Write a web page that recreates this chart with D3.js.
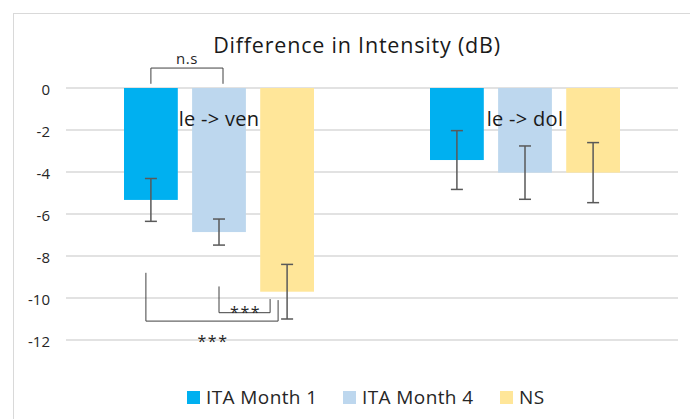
<!DOCTYPE html>
<html>
<head>
<meta charset="utf-8">
<script src="https://cdn.jsdelivr.net/npm/d3@7"></script>
<style>
  body { margin: 0; background: #fff; }
  svg { display: block; font-family: 'Open Sans', sans-serif; }
</style>
</head>
<body>
<svg id="chart" width="690" height="419"></svg>
<script>
const categories = ['le -> ven', 'le -> dol'];
const seriesNames = ['ITA Month 1', 'ITA Month 4', 'NS'];
const month1 = [-5.33, -3.43];
const month4 = [-6.86, -4.03];
const ns = [-9.7, -4.03];
const month1Err = [1.02, 1.4];
const month4Err = [0.62, 1.27];
const nsErr = [1.3, 1.43];
const yTicks = [0, -2, -4, -6, -8, -10, -12];
const colors = ['#00b0f0', '#bdd7ee', '#ffe699'];

// significance brackets: series index for each leg, y levels in data units
const brackets = [
  { a: 0, b: 1, cat: 0, ya: 0.2, yb: 0.2, yBar: 0.95, label: 'n.s', pos: 'above' },
  { a: 1, b: 2, cat: 0, ya: -9.45, yb: -10.05, yBar: -10.7, label: '***', pos: 'inside', dxb: -17 },
  { a: 0, b: 2, cat: 0, ya: -8.8, yb: -10.1, yBar: -11.1, label: '***', pos: 'below', dxa: -5, dxb: -9 }
];

function makeChart() {
  const svg = d3.select('#chart');

  // outer frame
  svg.append('rect')
    .attr('x', 13.5).attr('y', 13.5)
    .attr('width', 700).attr('height', 420)
    .attr('fill', 'none').attr('stroke', '#d9d9d9');

  const x0 = d3.scaleBand().domain(categories).range([66, 678]);
  const x1 = d3.scaleBand().domain(seriesNames)
    .range([58, 248]).paddingInner(0.21);
  const y = d3.scaleLinear().domain([-12, 0]).range([340, 88]);

  // gridlines
  svg.append('g')
    .selectAll('line')
    .data(yTicks)
    .join('line')
    .attr('x1', 66).attr('x2', 678)
    .attr('y1', d => y(d)).attr('y2', d => y(d))
    .attr('stroke', '#d9d9d9').attr('stroke-width', 1.3);

  // y axis labels
  const yAxis = svg.append('g')
    .attr('transform', 'translate(50,2)')
    .call(d3.axisLeft(y).tickValues(yTicks).tickFormat(d => String(d)).tickSize(0).tickPadding(0));
  yAxis.select('.domain').remove();
  yAxis.selectAll('text')
    .attr('font-family', "'Open Sans', sans-serif")
    .attr('font-size', 15).attr('fill', '#262626');

  const series = [month1, month4, ns];
  const errs = [month1Err, month4Err, nsErr];
  const rows = [];
  categories.forEach((c, ci) => {
    seriesNames.forEach((s, si) => {
      rows.push({ cat: c, name: s, si: si, value: series[si][ci], err: errs[si][ci] });
    });
  });
  const cx = d => x0(d.cat) + x1(d.name) + x1.bandwidth() / 2;

  svg.append('g')
    .selectAll('rect')
    .data(rows)
    .join('rect')
    .attr('x', d => x0(d.cat) + x1(d.name))
    .attr('y', y(0))
    .attr('width', x1.bandwidth())
    .attr('height', d => y(d.value) - y(0))
    .attr('fill', d => colors[d.si]);

  // error bars
  const eb = svg.append('g').attr('stroke', '#595959').attr('stroke-width', 1.5);
  rows.forEach(d => {
    const x = cx(d);
    const top = y(d.value + d.err), bot = y(d.value - d.err);
    eb.append('line').attr('x1', x).attr('x2', x).attr('y1', top).attr('y2', bot);
    eb.append('line').attr('x1', x - 6).attr('x2', x + 6).attr('y1', top).attr('y2', top);
    eb.append('line').attr('x1', x - 6).attr('x2', x + 6).attr('y1', bot).attr('y2', bot);
  });

  // category labels
  svg.append('g')
    .selectAll('text')
    .data(categories)
    .join('text')
    .attr('x', d => x0(d) + x0.bandwidth() / 2)
    .attr('y', y(0) + 38)
    .attr('text-anchor', 'middle')
    .attr('font-size', 20).attr('letter-spacing', 0.3).attr('fill', '#1a1a1a')
    .text(d => d);

  // title
  svg.append('text')
    .attr('x', 357).attr('y', 53)
    .attr('text-anchor', 'middle')
    .attr('font-size', 21.5).attr('letter-spacing', 0.8).attr('fill', '#1a1a1a')
    .text('Difference in Intensity (dB)');

  // brackets
  const bg = svg.append('g');
  brackets.forEach(b => {
    const xa = x0(categories[b.cat]) + x1(seriesNames[b.a]) + x1.bandwidth() / 2 + (b.dxa || 0);
    const xb = x0(categories[b.cat]) + x1(seriesNames[b.b]) + x1.bandwidth() / 2 + (b.dxb !== undefined ? b.dxb : 4);
    const yl = y(b.yBar);
    bg.append('path')
      .attr('d', `M${xa},${y(b.ya)}V${yl}H${xb}V${y(b.yb)}`)
      .attr('fill', 'none').attr('stroke', '#404040').attr('stroke-width', 1);
    let ty;
    if (b.pos === 'above') ty = yl - 4;
    else if (b.pos === 'below') ty = yl + 26;
    else ty = yl + 5;
    bg.append('text')
      .attr('x', (xa + xb) / 2 + (b.pos === 'above' ? 0 : 1))
      .attr('y', ty)
      .attr('text-anchor', 'middle')
      .attr('font-size', b.pos === 'above' ? 15 : 16)
      .attr('letter-spacing', b.pos === 'above' ? 0.5 : 1.5)
      .attr('fill', '#262626')
      .text(b.label);
  });

  // legend
  const legX = [187, 343, 500];
  const lg = svg.append('g');
  seriesNames.forEach((s, i) => {
    lg.append('rect')
      .attr('x', legX[i]).attr('y', 391)
      .attr('width', 13).attr('height', 13)
      .attr('fill', colors[i]);
    lg.append('text')
      .attr('x', legX[i] + 19).attr('y', 404)
      .attr('font-size', 19).attr('letter-spacing', 0.4).attr('fill', '#262626')
      .text(s);
  });
}

makeChart();
</script>
</body>
</html>
